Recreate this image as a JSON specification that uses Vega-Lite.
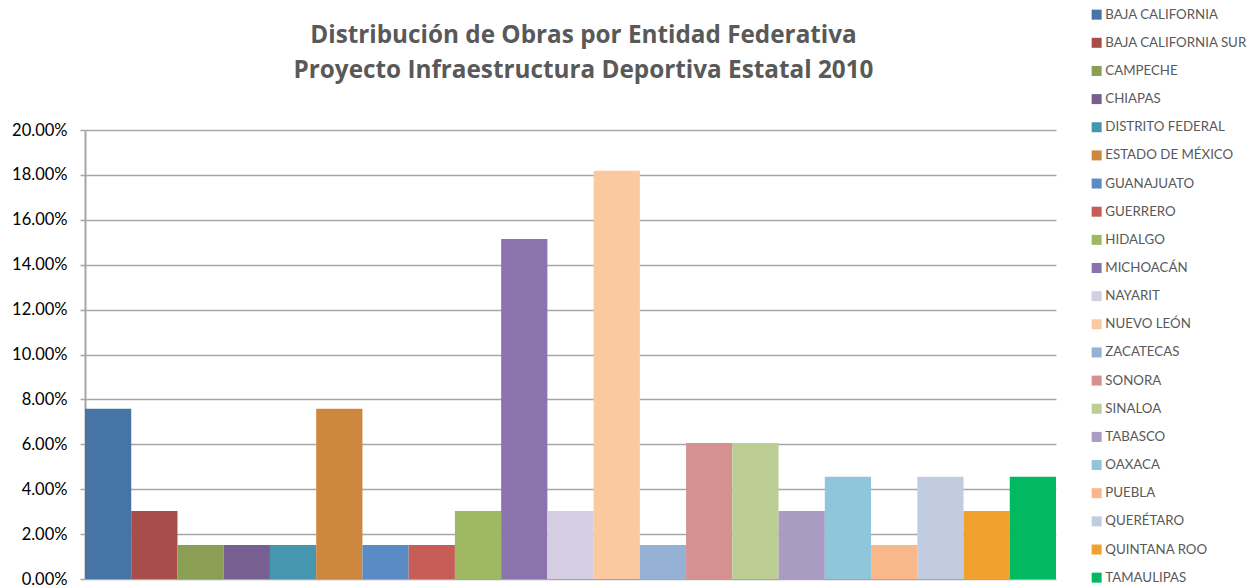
{
  "$schema": "https://vega.github.io/schema/vega-lite/v6.json",
  "width": 971,
  "height": 449,
  "autosize": {"type": "none"},
  "padding": {"left": 85, "top": 130, "right": 199, "bottom": 7},
  "background": "white",
  "title": {
    "text": ["Distribución de Obras por Entidad Federativa", "Proyecto Infraestructura Deportiva Estatal 2010"],
    "font": "Open Sans",
    "fontSize": 24.3,
    "fontWeight": "bold",
    "color": "#595959",
    "lineHeight": 35,
    "anchor": "middle",
    "frame": "group",
    "dx": 13,
    "offset": -75
  },
  "data": {
    "values": [
      {"entidad": "BAJA CALIFORNIA", "orden": 1, "porcentaje": 0.0758},
      {"entidad": "BAJA CALIFORNIA SUR", "orden": 2, "porcentaje": 0.0303},
      {"entidad": "CAMPECHE", "orden": 3, "porcentaje": 0.0152},
      {"entidad": "CHIAPAS", "orden": 4, "porcentaje": 0.0152},
      {"entidad": "DISTRITO FEDERAL", "orden": 5, "porcentaje": 0.0152},
      {"entidad": "ESTADO DE MÉXICO", "orden": 6, "porcentaje": 0.0758},
      {"entidad": "GUANAJUATO", "orden": 7, "porcentaje": 0.0152},
      {"entidad": "GUERRERO", "orden": 8, "porcentaje": 0.0152},
      {"entidad": "HIDALGO", "orden": 9, "porcentaje": 0.0303},
      {"entidad": "MICHOACÁN", "orden": 10, "porcentaje": 0.1515},
      {"entidad": "NAYARIT", "orden": 11, "porcentaje": 0.0303},
      {"entidad": "NUEVO LEÓN", "orden": 12, "porcentaje": 0.1818},
      {"entidad": "ZACATECAS", "orden": 13, "porcentaje": 0.0152},
      {"entidad": "SONORA", "orden": 14, "porcentaje": 0.0606},
      {"entidad": "SINALOA", "orden": 15, "porcentaje": 0.0606},
      {"entidad": "TABASCO", "orden": 16, "porcentaje": 0.0303},
      {"entidad": "OAXACA", "orden": 17, "porcentaje": 0.0455},
      {"entidad": "PUEBLA", "orden": 18, "porcentaje": 0.0152},
      {"entidad": "QUERÉTARO", "orden": 19, "porcentaje": 0.0455},
      {"entidad": "QUINTANA ROO", "orden": 20, "porcentaje": 0.0303},
      {"entidad": "TAMAULIPAS", "orden": 21, "porcentaje": 0.0455}
    ]
  },
  "mark": {"type": "bar", "clip": false},
  "encoding": {
    "x": {
      "field": "entidad",
      "type": "nominal",
      "sort": {"field": "orden", "order": "ascending"},
      "scale": {"paddingInner": 0, "paddingOuter": 0},
      "axis": null
    },
    "y": {
      "field": "porcentaje",
      "type": "quantitative",
      "scale": {"domain": [0, 0.2], "nice": false},
      "axis": {
        "title": null,
        "format": ".2%",
        "values": [0, 0.02, 0.04, 0.06, 0.08, 0.1, 0.12, 0.14, 0.16, 0.18, 0.2],
        "labelFont": "Lato",
        "labelFontSize": 16.5,
        "labelColor": "#000000",
        "labelPadding": 13,
        "tickSize": 5,
        "tickColor": "#A6A6A6",
        "tickWidth": 1.5,
        "domainColor": "#A6A6A6",
        "domainWidth": 2,
        "gridColor": "#A6A6A6",
        "gridWidth": 1.5,
        "gridOpacity": 1
      }
    },
    "color": {
      "field": "entidad",
      "type": "nominal",
      "sort": {"field": "orden", "order": "ascending"},
      "scale": {
        "range": ["#4674A5", "#A74D4A", "#8A9F53", "#775F92", "#4596AE", "#CE873E", "#5B8BC5", "#C65D57", "#9EB962", "#8B74AD", "#D5CEE2", "#FAC9A0", "#95B1D6", "#D59190", "#BDCE95", "#A99BC1", "#8FC6D9", "#F9B88A", "#C2CCE0", "#F0A22C", "#00B960"]
      },
      "legend": {
        "title": null,
        "orient": "none",
        "legendX": 1005,
        "legendY": -122,
        "symbolType": "square",
        "symbolSize": 100,
        "symbolStrokeWidth": 0,
        "labelFont": "Lato",
        "labelFontSize": 13.3,
        "labelColor": "#595959",
        "labelOffset": 2,
        "rowPadding": 14.15,
        "labelLimit": 200
      }
    }
  },
  "config": {"view": {"stroke": null}}
}
